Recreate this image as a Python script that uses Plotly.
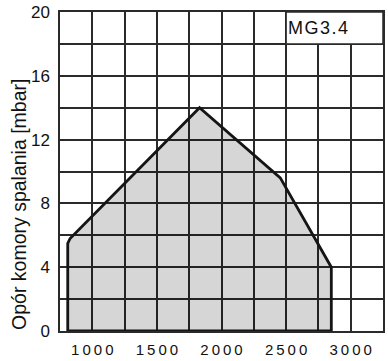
import plotly.graph_objects as go

# Data: burner working field (x: capacity, y: combustion chamber resistance mbar)
field_x = [810, 810, 828, 1830, 2455, 2850, 2850, 810]
field_y = [0, 5.5, 5.8, 14.0, 9.6, 4.0, 0, 0]

x_tickvals = [750, 1000, 1250, 1500, 1750, 2000, 2250, 2500, 2750, 3000, 3250]
x_ticklabels = ["", "1000", "", "1500", "", "2000", "", "2500", "", "3000", ""]
y_tickvals = [0, 2, 4, 6, 8, 10, 12, 14, 16, 18, 20]
y_ticklabels = ["0", "", "4", "", "8", "", "12", "", "16", "", "20"]

model_label = "MG3.4"
y_title = "Opór komory spalania [mbar]"

SP = "\u2009"
x_ticktext = [SP.join(list(t)) for t in x_ticklabels]
model_text = "\u200a".join(list(model_label))

FONT = "Liberation Sans, Arial, Helvetica, sans-serif"
GRID = "#2a2a2a"

fig = go.Figure()
fig.add_trace(go.Scatter(
    x=field_x, y=field_y, mode="lines",
    fill="toself", fillcolor="rgba(0,0,0,0.16)",
    line=dict(color="#151515", width=2.8),
    hoverinfo="skip", showlegend=False, cliponaxis=False,
))

fig.add_shape(type="rect", xref="x", yref="y", x0=2500, x1=3250, y0=18, y1=20,
              fillcolor="white", line=dict(color=GRID, width=1.5), layer="above")
fig.add_annotation(x=2750, y=19, xref="x", yref="y", text=model_text, showarrow=False,
                   font=dict(family=FONT, size=18, color="#111"), xanchor="center", yanchor="middle")
fig.add_annotation(x=-0.125, y=0.397, xref="paper", yref="paper", text=y_title, showarrow=False,
                   textangle=-90, font=dict(family=FONT, size=19.5, color="#111"),
                   xanchor="center", yanchor="middle")

fig.update_layout(
    width=388, height=361,
    margin=dict(l=60, r=3, t=11, b=30),
    paper_bgcolor="white", plot_bgcolor="white",
    showlegend=False,
    xaxis=dict(range=[750, 3250], tickmode="array", tickvals=x_tickvals, ticktext=x_ticktext,
               showgrid=True, gridcolor=GRID, gridwidth=1.5, zeroline=False,
               showline=True, linecolor=GRID, linewidth=1.5, mirror=True,
               ticks="", tickfont=dict(family=FONT, size=15, color="#111"),
               ticklabelstandoff=4, fixedrange=True),
    yaxis=dict(range=[0, 20], tickmode="array", tickvals=y_tickvals, ticktext=y_ticklabels,
               showgrid=True, gridcolor=GRID, gridwidth=1.5, zeroline=False,
               showline=True, linecolor=GRID, linewidth=1.5, mirror=True,
               ticks="", tickfont=dict(family=FONT, size=17, color="#111"),
               ticklabelstandoff=5, fixedrange=True),
)

fig.write_html("out.html", config={"displayModeBar": False},
               post_script="document.body.style.margin='0';document.body.style.overflow='hidden';")
